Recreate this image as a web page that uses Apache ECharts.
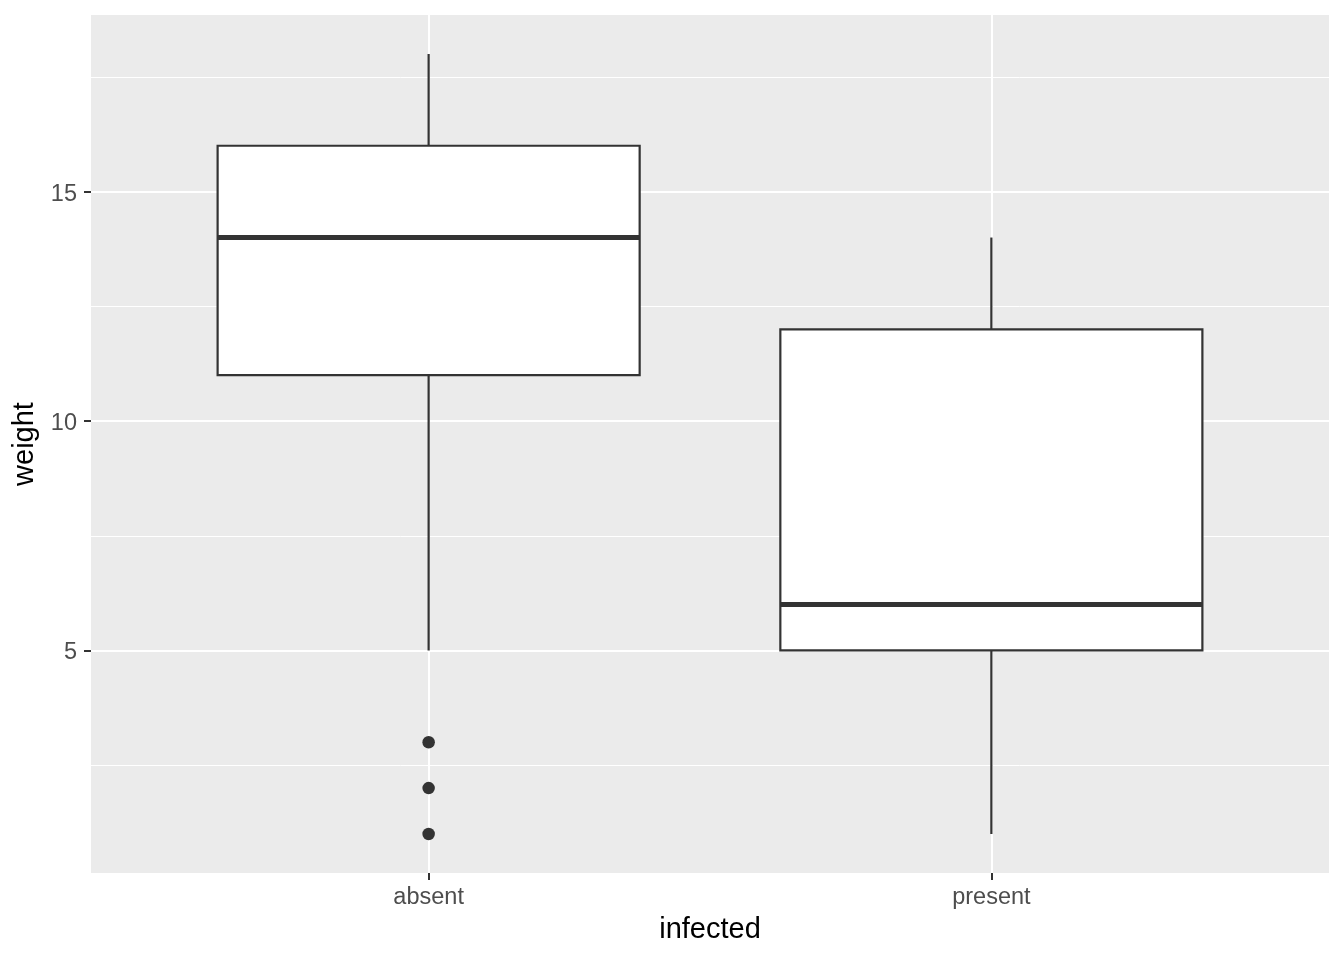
<!DOCTYPE html>
<html>
<head>
<meta charset="utf-8">
<script src="https://cdn.jsdelivr.net/npm/echarts@6/dist/echarts.min.js"></script>
<style>html,body{margin:0;padding:0;background:#fff}#chart{width:1344px;height:960px}</style>
</head>
<body>
<div id="chart"></div>
<script>
const categories = ['absent', 'present'];
const whiskerLow = [5, 1];
const q1 = [11, 5];
const median = [14, 6];
const q3 = [16, 12];
const whiskerHigh = [18, 14];
const outlierCategory = [1, 1, 1];
const outlierValues = [3, 2, 1];
const yTicks = [5, 10, 15];
const yMinorTicks = [2.5, 7.5, 12.5, 17.5];

const boxData = categories.map((c, i) => [i + 1, whiskerLow[i], q1[i], median[i], q3[i], whiskerHigh[i]]);
const outlierData = outlierValues.map((v, i) => [outlierCategory[i], v]);
const catPos = categories.map((c, i) => i + 1);

const chart = echarts.init(document.getElementById('chart'), null, {renderer: 'canvas'});
const font = 'Liberation Sans, Arial, Helvetica, sans-serif';
const lineCol = '#333333';

chart.setOption({
  animation: false,
  backgroundColor: '#ffffff',
  grid: {left: 91, right: 15, top: 15, bottom: 87, show: true, backgroundColor: '#EBEBEB', borderWidth: 0},
  xAxis: {
    type: 'value', min: 0.4, max: 2.6,
    name: 'infected', nameLocation: 'middle', nameGap: 42,
    nameTextStyle: {fontFamily: font, fontSize: 29, color: '#000'},
    axisLine: {show: false},
    splitLine: {show: false},
    axisTick: {show: true, customValues: catPos, length: 7, lineStyle: {color: lineCol, width: 2}},
    axisLabel: {customValues: catPos, formatter: v => categories[Math.round(v) - 1], fontFamily: font, fontSize: 23.5, color: '#4D4D4D', margin: 13}
  },
  yAxis: {
    type: 'value', min: 0.15, max: 18.85,
    name: 'weight', nameLocation: 'middle', nameGap: 44,
    nameTextStyle: {fontFamily: font, fontSize: 29, color: '#000'},
    axisLine: {show: false},
    splitLine: {show: false},
    axisTick: {show: true, customValues: yTicks, length: 7, lineStyle: {color: lineCol, width: 2}},
    axisLabel: {
      customValues: yTicks, margin: 14,
      formatter: v => '{t|' + v + '}',
      rich: {t: {fontFamily: font, fontSize: 23.5, color: '#4D4D4D', padding: [5, 0, 0, 0]}}
    }
  },
  series: [
    {
      type: 'line', data: [], z: 1, silent: true,
      markLine: {
        z: 1, silent: true, symbol: ['none', 'none'], label: {show: false}, animation: false,
        data: [
          ...yMinorTicks.map(v => ({yAxis: v, lineStyle: {color: '#fff', width: 1, type: 'solid'}})),
          ...yTicks.map(v => ({yAxis: v, lineStyle: {color: '#fff', width: 2, type: 'solid'}})),
          ...catPos.map(v => ({xAxis: v, lineStyle: {color: '#fff', width: 2, type: 'solid'}}))
        ]
      }
    },
    {
      type: 'custom', z: 10, data: boxData,
      encode: {x: 0, y: [1, 2, 3, 4, 5]},
      renderItem: function (params, api) {
        const x = api.value(0);
        const halfW = api.size([0.75, 0])[0] / 2;
        const pLow = api.coord([x, api.value(1)]);
        const pQ1 = api.coord([x, api.value(2)]);
        const pMed = api.coord([x, api.value(3)]);
        const pQ3 = api.coord([x, api.value(4)]);
        const pHigh = api.coord([x, api.value(5)]);
        const st = {stroke: lineCol, lineWidth: 2.2, fill: null};
        return {
          type: 'group',
          children: [
            {type: 'line', shape: {x1: pHigh[0], y1: pHigh[1], x2: pQ3[0], y2: pQ3[1]}, style: st},
            {type: 'line', shape: {x1: pQ1[0], y1: pQ1[1], x2: pLow[0], y2: pLow[1]}, style: st},
            {type: 'rect', shape: {x: pQ3[0] - halfW, y: pQ3[1], width: 2 * halfW, height: pQ1[1] - pQ3[1]},
              style: {stroke: lineCol, lineWidth: 2.2, fill: '#ffffff'}},
            {type: 'line', shape: {x1: pMed[0] - halfW, y1: pMed[1], x2: pMed[0] + halfW, y2: pMed[1]},
              style: {stroke: lineCol, lineWidth: 5}}
          ]
        };
      }
    },
    {
      type: 'scatter', z: 11, data: outlierData, symbol: 'circle', symbolSize: 12.5,
      itemStyle: {color: lineCol, opacity: 1}
    }
  ]
});
</script>
</body>
</html>
